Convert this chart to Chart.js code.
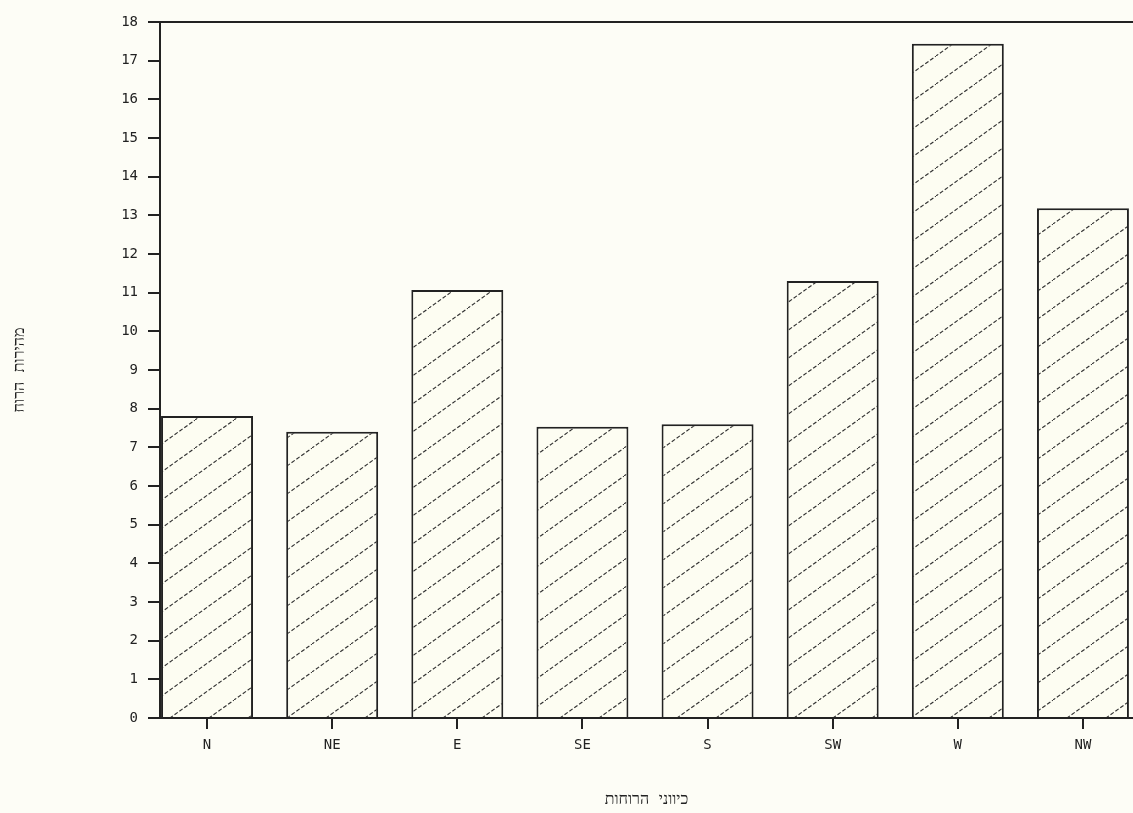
<!DOCTYPE html>
<html>
<head>
<meta charset="utf-8">
<script src="https://cdn.jsdelivr.net/npm/chart.js@4"></script>
<style>
  html, body { margin: 0; padding: 0; background: #fdfdf6; overflow: hidden; }
  #wrap { width: 1133px; height: 813px; position: relative; }
</style>
</head>
<body>
<div id="wrap"><canvas id="windChart"></canvas></div>
<script>
// wind directions and speeds
const directions = ['N', 'NE', 'E', 'SE', 'S', 'SW', 'W', 'NW'];
const speeds = [7.81, 7.40, 11.07, 7.53, 7.60, 11.30, 17.44, 13.18];
const yTitle = 'מהירות הרוח';
const xTitle = 'כיווני הרוחות';

// dotted diagonal hatching like the old plotter output
function makeHatch() {
  const tile = document.createElement('canvas');
  tile.width = 39;
  tile.height = 28;
  const c = tile.getContext('2d');
  c.fillStyle = '#fdfdf2';
  c.fillRect(0, 0, 39, 28);
  c.strokeStyle = '#333';
  c.lineWidth = 1.2;
  c.setLineDash([4, 2]);
  c.beginPath();
  c.moveTo(-1, 28.7);
  c.lineTo(40, -0.7);
  c.stroke();
  return c.createPattern(tile, 'repeat');
}

const ink = '#222';
const tickFont = { family: 'DejaVu Sans Mono', size: 14 };

const ctx = document.getElementById('windChart').getContext('2d');
new Chart(ctx, {
  type: 'bar',
  data: {
    datasets: [{
      data: directions.map((d, i) => ({ x: i, y: speeds[i] })),
      backgroundColor: makeHatch(),
      borderColor: ink,
      borderWidth: 2,
      barPercentage: 0.735,
      categoryPercentage: 1.0
    }]
  },
  options: {
    responsive: true,
    maintainAspectRatio: false,
    animation: false,
    layout: { padding: { top: 22, left: 0, right: 0, bottom: 0 } },
    plugins: {
      legend: { display: false },
      tooltip: { enabled: false }
    },
    scales: {
      x: {
        type: 'linear',
        offset: false,
        min: -0.376,
        max: 7.40,
        border: { color: ink, width: 2 },
        grid: {
          offset: false,
          drawOnChartArea: false,
          drawTicks: true,
          tickLength: 11,
          color: ink,
          lineWidth: 2
        },
        ticks: {
          stepSize: 1,
          includeBounds: false,
          maxRotation: 0,
          autoSkip: false,
          padding: 8,
          color: '#222',
          font: tickFont,
          callback: value => directions[value] ?? ''
        },
        title: {
          display: true,
          text: xTitle,
          color: '#222',
          font: { family: 'DejaVu Sans Mono', size: 16 },
          padding: { top: 0, bottom: 4 }
        },
        afterFit: scale => { scale.height = 95; }
      },
      y: {
        min: 0,
        max: 18,
        border: { color: ink, width: 2 },
        grid: {
          drawOnChartArea: true,
          color: c => c.tick && c.tick.value === 18 ? ink : 'transparent',
          tickColor: ink,
          tickLength: 12,
          lineWidth: 2
        },
        ticks: {
          stepSize: 1,
          padding: 10,
          color: '#222',
          font: tickFont
        },
        title: {
          display: true,
          text: yTitle,
          color: '#222',
          font: { family: 'DejaVu Sans Mono', size: 16 },
          padding: { top: 10, bottom: 0 }
        },
        afterFit: scale => { scale.width = 160; }
      }
    }
  }
});
</script>
</body>
</html>
